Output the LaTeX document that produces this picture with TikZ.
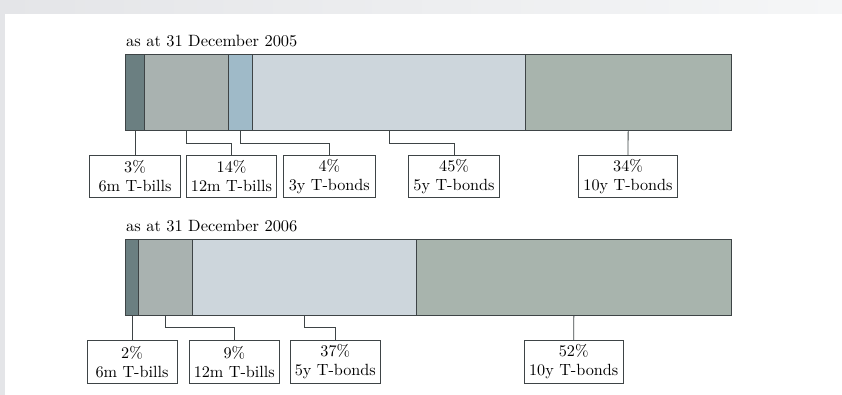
\documentclass[tikz,border=0pt]{standalone}
\usepackage{fontspec}
\setmainfont{lmroman10-regular.otf}
\usepackage{tikz}
\definecolor{bgA}{HTML}{E4E5E8}
\definecolor{bgB}{HTML}{F5F6F7}
\definecolor{cSix}{HTML}{6B7F81}
\definecolor{cTwelve}{HTML}{A9B2B0}
\definecolor{cThree}{HTML}{9FBAC8}
\definecolor{cFive}{HTML}{CDD6DC}
\definecolor{cTen}{HTML}{A8B4AD}
\definecolor{edge}{HTML}{3E4446}
\begin{document}
\begin{tikzpicture}[x=1pt,y=-1pt,
  seg/.style={draw=edge,line width=0.9pt,minimum height=76.3pt,inner sep=0pt,anchor=north west,outer sep=0pt},
  lbl/.style={draw=edge,line width=0.8pt,fill=white,inner sep=0pt,minimum height=42.4pt,align=center,
     font=\fontsize{16.2}{19}\selectfont},
  lead/.style={draw=edge,line width=0.8pt},
  ttl/.style={anchor=base west,inner sep=0pt,font=\fontsize{16.4}{19}\selectfont}]
\useasboundingbox (0,0) rectangle (842,394);
\shade[left color=bgA,right color=bgB] (0,0) rectangle (842,394);
\fill[white] (5,14) rectangle (843,395);
% ---- 2005 ----
\node[ttl] (t1) at (126,46.7) {as at 31 December 2005};
\node[seg,fill=cSix,minimum width=18.6pt] (a1) at (125.7,54) {};
\node[seg,fill=cTwelve,minimum width=84.4pt] (a2) at (144.3,54) {};
\node[seg,fill=cThree,minimum width=24pt] (a3) at (228.7,54) {};
\node[seg,fill=cFive,minimum width=272.6pt] (a4) at (252.7,54) {};
\node[seg,fill=cTen,minimum width=205.7pt] (a5) at (525.3,54) {};
\node[lbl,minimum width=91.4pt] (b1) at (135,176.5) {3\%\\6m T-bills};
\node[lbl,minimum width=90pt] (b2) at (231.5,176.5) {14\%\\12m T-bills};
\node[lbl,minimum width=91.3pt] (b3) at (329.3,176.5) {4\%\\3y T-bonds};
\node[lbl,minimum width=90.6pt] (b4) at (454,176.5) {45\%\\5y T-bonds};
\node[lbl,minimum width=98.3pt] (b5) at (628,176.5) {34\%\\10y T-bonds};
\draw[lead] (a1.south) -- (b1.north);
\draw[lead] (a2.south) -- ++(0,13.3) -| (b2.north);
\draw[lead] (a3.south) -- ++(0,13.3) -| (b3.north);
\draw[lead] (a4.south) -- ++(0,13.3) -| (b4.north);
\draw[lead] (a5.south) -- (b5.north);
% ---- 2006 ----
\node[ttl] (t2) at (126,231.7) {as at 31 December 2006};
\node[seg,fill=cSix,minimum width=12.6pt] (c1) at (125.7,239.3) {};
\node[seg,fill=cTwelve,minimum width=54.4pt] (c2) at (138.3,239.3) {};
\node[seg,fill=cFive,minimum width=224pt] (c3) at (192.7,239.3) {};
\node[seg,fill=cTen,minimum width=314.3pt] (c4) at (416.7,239.3) {};
\node[lbl,minimum width=90pt] (d1) at (132,362) {2\%\\6m T-bills};
\node[lbl,minimum width=90pt] (d2) at (234.3,362) {9\%\\12m T-bills};
\node[lbl,minimum width=90.7pt] (d3) at (335.3,362) {37\%\\5y T-bonds};
\node[lbl,minimum width=98.4pt] (d4) at (573.7,362) {52\%\\10y T-bonds};
\draw[lead] (c1.south) -- (d1.north);
\draw[lead] (c2.south) -- ++(0,11.6) -| (d2.north);
\draw[lead] (c3.south) -- ++(0,11.6) -| (d3.north);
\draw[lead] (c4.south) -- (d4.north);
\end{tikzpicture}
\end{document}
